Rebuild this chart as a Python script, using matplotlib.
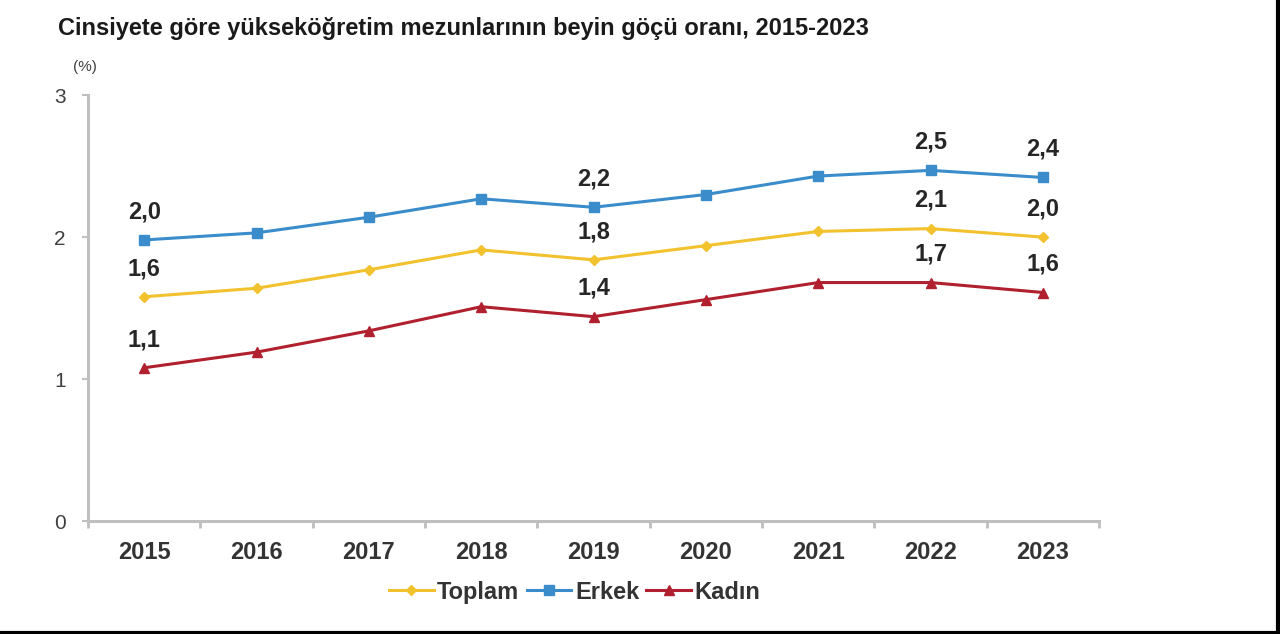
import matplotlib
matplotlib.use("Agg")
import matplotlib.pyplot as plt
from matplotlib.lines import Line2D

years = ["2015", "2016", "2017", "2018", "2019", "2020", "2021", "2022", "2023"]
toplam = [1.58, 1.64, 1.77, 1.91, 1.84, 1.94, 2.04, 2.06, 2.00]
erkek = [1.98, 2.03, 2.14, 2.27, 2.21, 2.30, 2.43, 2.47, 2.42]
kadin = [1.08, 1.19, 1.34, 1.51, 1.44, 1.56, 1.68, 1.68, 1.61]
label_idx = [0, 4, 7, 8]
toplam_lbl = ["1,6", "1,8", "2,1", "2,0"]
erkek_lbl = ["2,0", "2,2", "2,5", "2,4"]
kadin_lbl = ["1,1", "1,4", "1,7", "1,6"]
yticks = [0, 1, 2, 3]

plt.rcParams['font.family'] = ['Liberation Sans', 'DejaVu Sans']

fig = plt.figure(figsize=(12.8, 6.34), dpi=100)
ax = fig.add_axes([0.06875, 0.178, 0.79, 0.672])

c_top = "#F2C12E"
c_erk = "#3A8CCB"
c_kad = "#B0202E"
x = list(range(len(years)))

ax.plot(x, toplam, color=c_top, lw=2.2, marker="D", ms=5, label="Toplam")
ax.plot(x, erkek, color=c_erk, lw=2.2, marker="s", ms=7, label="Erkek")
ax.plot(x, kadin, color=c_kad, lw=2.2, marker="^", ms=7, label="Kadın")

for series, lbls in ((toplam, toplam_lbl), (erkek, erkek_lbl), (kadin, kadin_lbl)):
    for i, t in zip(label_idx, lbls):
        ax.annotate(t, (i, series[i]), xytext=(0, 12), textcoords="offset points",
                    ha="center", va="bottom", fontsize=17, fontweight="bold",
                    color="#262626")

ax.set_xlim(-0.5, 8.5)
ax.set_ylim(0, 3)
ax.set_yticks(yticks)
ax.set_yticklabels([str(v) for v in yticks], fontsize=15, color="#404040")
ax.set_xticks([i - 0.5 for i in range(len(years) + 1)])
ax.set_xticklabels([])
ax.set_xticks(x, minor=True)
ax.set_xticklabels(years, minor=True, fontsize=17, fontweight="bold", color="#333333")
ax.tick_params(axis="x", which="minor", length=0, pad=14)
ax.tick_params(axis="x", which="major", length=5, width=2, color="#BFBFBF")
ax.tick_params(axis="y", length=4, width=1.5, color="#BFBFBF", pad=12)

for s in ("top", "right"):
    ax.spines[s].set_visible(False)
for s in ("left", "bottom"):
    ax.spines[s].set_color("#BFBFBF")
    ax.spines[s].set_linewidth(2.2)

fig.text(0.045, 0.955, "Cinsiyete göre yükseköğretim mezunlarının beyin göçü oranı, 2015-2023",
         fontsize=17, fontweight="bold", color="#1a1a1a", ha="left", va="center")
fig.text(0.057, 0.895, "(%)", fontsize=11, color="#404040", ha="left", va="center")

leg = fig.legend(loc="center", bbox_to_anchor=(0.449, 0.066), ncol=3, frameon=False,
                 fontsize=17, handlelength=1.9, columnspacing=0.3, handletextpad=0.15)
for t in leg.get_texts():
    t.set_color("#333333")
    t.set_fontweight("bold")

fig.add_artist(Line2D([0, 1], [0.002, 0.002], transform=fig.transFigure, color="black", lw=3))
fig.add_artist(Line2D([0.9985, 0.9985], [0, 1], transform=fig.transFigure, color="black", lw=3))

fig.savefig("out.png", dpi=100)
